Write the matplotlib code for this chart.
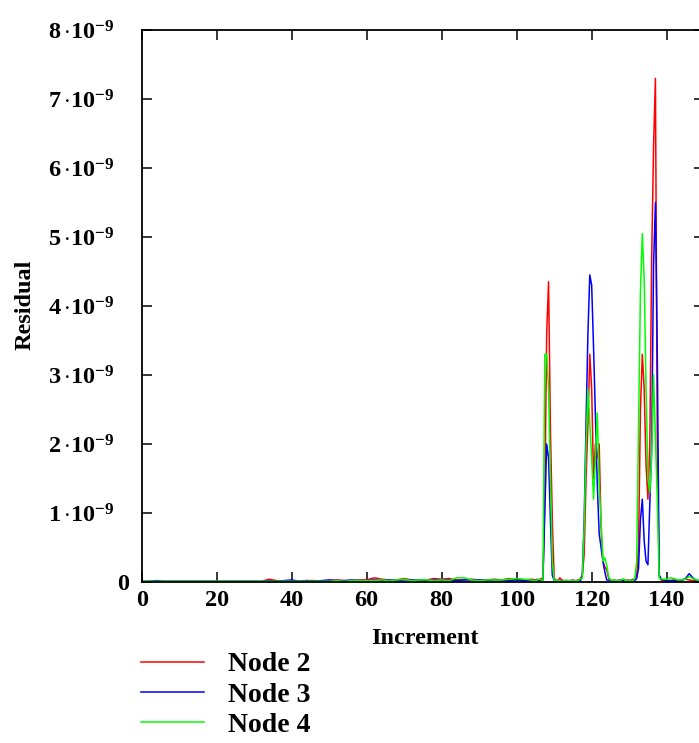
import numpy as np
import matplotlib
matplotlib.use("Agg")
from matplotlib import pyplot as plt
from matplotlib.transforms import ScaledTranslation

# residual values are in units of 1e-9
# coarse part: increments 0, 2, ..., 104
red_coarse = [0.01, 0.01, 0.01, 0.01, 0.01, 0.01, 0.01, 0.01, 0.01, 0.01,
              0.01, 0.01, 0.01, 0.01, 0.01, 0.01, 0.01, 0.04, 0.02, 0.01,
              0.02, 0.01, 0.02, 0.02, 0.01, 0.02, 0.03, 0.02, 0.02, 0.03,
              0.03, 0.06, 0.04, 0.03, 0.03, 0.05, 0.03, 0.02, 0.03, 0.05,
              0.04, 0.05, 0.03, 0.03, 0.04, 0.03, 0.03, 0.04, 0.03, 0.05,
              0.04, 0.03, 0.04]
blue_coarse = [0.01, 0.01, 0.02, 0.01, 0.01, 0.01, 0.01, 0.01, 0.01, 0.01,
               0.01, 0.01, 0.01, 0.01, 0.01, 0.01, 0.01, 0.02, 0.01, 0.02,
               0.03, 0.01, 0.02, 0.01, 0.02, 0.03, 0.02, 0.02, 0.03, 0.02,
               0.02, 0.03, 0.02, 0.03, 0.02, 0.03, 0.03, 0.03, 0.02, 0.03,
               0.03, 0.03, 0.02, 0.03, 0.03, 0.03, 0.02, 0.03, 0.03, 0.02,
               0.03, 0.02, 0.03]
green_coarse = [0.01, 0.01, 0.01, 0.01, 0.01, 0.01, 0.01, 0.01, 0.01, 0.01,
                0.01, 0.01, 0.01, 0.01, 0.01, 0.01, 0.01, 0.01, 0.01, 0.01,
                0.01, 0.01, 0.01, 0.01, 0.01, 0.01, 0.02, 0.01, 0.02, 0.02,
                0.02, 0.02, 0.03, 0.02, 0.03, 0.04, 0.02, 0.03, 0.03, 0.02,
                0.03, 0.02, 0.06, 0.06, 0.03, 0.02, 0.03, 0.03, 0.03, 0.04,
                0.05, 0.04, 0.03]

# fine part: increments 105, 105.5, ..., 139
red_fine = [0.03, 0.04, 0.03, 0.05, 0.05, 1.2, 3.6, 4.35, 2.2, 0.9,
            0.05, 0.03, 0.02, 0.06, 0.03, 0.02, 0.02, 0.02, 0.02, 0.02,
            0.03, 0.02, 0.02, 0.03, 0.05, 0.1, 0.4, 1.5, 2.3, 3.3,
            2.8, 1.5, 2.0, 1.8, 2.0, 0.8, 0.3, 0.22, 0.18, 0.06,
            0.03, 0.02, 0.03, 0.02, 0.02, 0.03, 0.02, 0.02, 0.02, 0.03,
            0.02, 0.03, 0.04, 0.03, 0.1, 0.5, 2.5, 3.3, 2.8, 1.7,
            1.2, 2.0, 4.7, 6.3, 7.3, 2.0, 0.1, 0.03, 0.02]
blue_fine = [0.02, 0.03, 0.02, 0.03, 0.02, 1.0, 2.0, 1.8, 0.9, 0.1,
             0.02, 0.02, 0.01, 0.02, 0.02, 0.01, 0.02, 0.02, 0.01, 0.02,
             0.02, 0.01, 0.02, 0.02, 0.02, 0.1, 0.9, 2.3, 3.6, 4.45,
             4.3, 3.4, 2.4, 1.4, 0.7, 0.5, 0.3, 0.15, 0.03, 0.03,
             0.02, 0.02, 0.01, 0.02, 0.02, 0.02, 0.03, 0.02, 0.02, 0.02,
             0.02, 0.02, 0.02, 0.02, 0.05, 0.2, 0.9, 1.2, 0.6, 0.3,
             0.25, 1.1, 2.0, 4.6, 5.5, 3.3, 0.1, 0.05, 0.03]
green_fine = [0.02, 0.03, 0.04, 0.03, 0.02, 3.3, 3.3, 2.8, 1.5, 0.3,
              0.02, 0.03, 0.02, 0.02, 0.01, 0.02, 0.02, 0.02, 0.02, 0.02,
              0.02, 0.02, 0.02, 0.02, 0.05, 0.05, 0.8, 2.0, 2.8, 2.3,
              1.8, 1.2, 1.8, 2.45, 1.4, 0.9, 0.3, 0.35, 0.25, 0.08,
              0.03, 0.02, 0.03, 0.02, 0.02, 0.02, 0.03, 0.05, 0.02, 0.02,
              0.02, 0.03, 0.02, 0.05, 0.3, 2.2, 4.2, 5.05, 4.4, 2.8,
              1.5, 1.3, 1.8, 3.0, 2.1, 1.2, 0.05, 0.05, 0.04]

# tail: increments 140 ... 150
red_tail = [0.02, 0.02, 0.03, 0.02, 0.03, 0.04, 0.03, 0.02, 0.02, 0.02, 0.02]
blue_tail = [0.02, 0.02, 0.02, 0.01, 0.02, 0.05, 0.12, 0.06, 0.02, 0.02, 0.02]
green_tail = [0.04, 0.06, 0.05, 0.03, 0.03, 0.04, 0.08, 0.05, 0.03, 0.02, 0.02]

labels = ["Node 2", "Node 3", "Node 4"]
colors = ["#ff0000", "#0000ff", "#00ff00"]
y_ticks = [0, 1, 2, 3, 4, 5, 6, 7, 8]
x_ticks = [0, 20, 40, 60, 80, 100, 120, 140]

increments = np.concatenate([np.arange(0, 106, 2),
                             np.arange(105, 139.5, 0.5),
                             np.arange(140, 151, 1)])
series = [red_coarse + red_fine + red_tail,
          blue_coarse + blue_fine + blue_tail,
          green_coarse + green_fine + green_tail]

plt.rcParams['font.family'] = ['Liberation Serif', 'DejaVu Serif']
plt.rcParams['font.weight'] = 'bold'
plt.rcParams['mathtext.fontset'] = 'custom'
plt.rcParams['mathtext.rm'] = 'Liberation Serif:bold'
plt.rcParams['mathtext.it'] = 'Liberation Serif:bold'
plt.rcParams['mathtext.bf'] = 'Liberation Serif:bold'

fig = plt.figure(figsize=(6.99, 7.43), dpi=100)
ax = fig.add_axes([0.2027, 0.2167, 0.8047, 0.7429])

for vals, col, lab in zip(series, colors, labels):
    ax.plot(increments, np.array(vals) * 1e-9, color=col, lw=1.1, label=lab)

ax.set_xlim(0, 150)
ax.set_ylim(0, 8e-9)
ax.set_xticks(x_ticks)
ax.set_xticklabels([str(t) for t in x_ticks])
ax.set_yticks([t * 1e-9 for t in y_ticks])
ax.set_yticklabels(["0"] + [r"$%d\,{\cdot}10^{-9}$" % t for t in y_ticks[1:]])

ax.tick_params(direction='in', length=7, width=1.1, top=True, right=True,
               labelsize=17.5)
ax.tick_params(axis='x', pad=6)
ax.tick_params(axis='y', pad=20)
for sp in ax.spines.values():
    sp.set_linewidth(1.3)

# the zero label sits closer to the axis than the others
zero_lab = ax.yaxis.get_major_ticks()[0].label1
zero_lab.set_transform(zero_lab.get_transform()
                       + ScaledTranslation(0.15, 0, fig.dpi_scale_trans))

fig.text(425 / 699, 1 - 638 / 743, "Increment", ha='center', va='center',
         fontsize=17.5, fontweight='bold')
fig.text(25 / 699, 1 - 305 / 743, "Residual", ha='center', va='center',
         rotation=90, fontsize=17.5, fontweight='bold')

fig.legend(loc='upper left', bbox_to_anchor=(141 / 699, 1 - 652 / 743),
           frameon=False, fontsize=20, handlelength=2.25, handletextpad=0.9,
           labelspacing=0.17, borderpad=0, borderaxespad=0)

fig.savefig("out.png", dpi=100)
